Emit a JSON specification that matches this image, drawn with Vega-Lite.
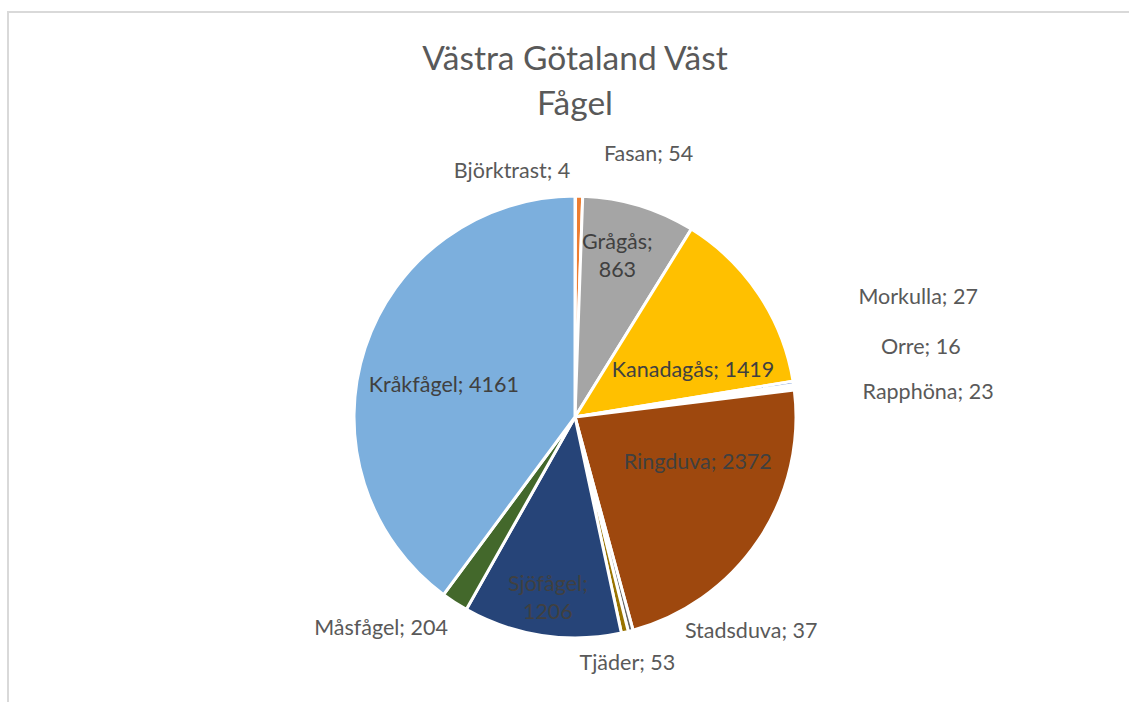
{
  "$schema": "https://vega.github.io/schema/vega-lite/v6.json",
  "autosize": {"type": "none"},
  "padding": {"left": 8, "top": 12, "right": 0, "bottom": 0},
  "width": 1134,
  "height": 810,
  "background": "white",
  "view": {"stroke": "#d9d9d9", "strokeWidth": 2},
  "config": {
    "view": {"stroke": "#d9d9d9", "strokeWidth": 2},
    "text": {"font": "Lato", "fontSize": 21.5}
  },
  "title": {
    "text": ["Västra Götaland Väst", "Fågel"],
    "font": "Lato",
    "fontSize": 33.5,
    "fontWeight": "normal",
    "color": "#595959",
    "lineHeight": 45,
    "anchor": "middle",
    "frame": "group",
    "offset": -110
  },
  "data": {
    "values": [
      {"i": 1, "name": "Björktrast", "value": 4, "label": "Björktrast; 4"},
      {"i": 2, "name": "Fasan", "value": 54, "label": "Fasan; 54"},
      {"i": 3, "name": "Grågås", "value": 863, "label": "Grågås; 863"},
      {"i": 4, "name": "Kanadagås", "value": 1419, "label": "Kanadagås; 1419"},
      {"i": 5, "name": "Morkulla", "value": 27, "label": "Morkulla; 27"},
      {"i": 6, "name": "Orre", "value": 16, "label": "Orre; 16"},
      {"i": 7, "name": "Rapphöna", "value": 23, "label": "Rapphöna; 23"},
      {"i": 8, "name": "Ringduva", "value": 2372, "label": "Ringduva; 2372"},
      {"i": 9, "name": "Stadsduva", "value": 37, "label": "Stadsduva; 37"},
      {"i": 10, "name": "Tjäder", "value": 53, "label": "Tjäder; 53"},
      {"i": 11, "name": "Sjöfågel", "value": 1206, "label": "Sjöfågel; 1206"},
      {"i": 12, "name": "Måsfågel", "value": 204, "label": "Måsfågel; 204"},
      {"i": 13, "name": "Kråkfågel", "value": 4161, "label": "Kråkfågel; 4161"}
    ]
  },
  "encoding": {
    "theta": {"field": "value", "type": "quantitative", "stack": true},
    "order": {"field": "i", "type": "quantitative"}
  },
  "layer": [
    {
      "mark": {"type": "arc", "outerRadius": 221, "stroke": "white", "strokeWidth": 3},
      "encoding": {
        "color": {
          "field": "name",
          "type": "nominal",
          "legend": null,
          "scale": {
            "domain": ["Björktrast", "Fasan", "Grågås", "Kanadagås", "Morkulla", "Orre", "Rapphöna", "Ringduva", "Stadsduva", "Tjäder", "Sjöfågel", "Måsfågel", "Kråkfågel"],
            "range": ["#5B9BD5", "#ED7D31", "#A5A5A5", "#FFC000", "#4472C4", "#70AD47", "#255E91", "#9E480E", "#636363", "#997300", "#264478", "#43682B", "#7CAFDD"]
          }
        }
      }
    },
    {
      "mark": {"type": "text", "radius": 245, "align": "right", "baseline": "middle", "dx": -5, "color": "#595959"},
      "encoding": {"text": {"condition": {"test": "datum.name === 'Björktrast'", "field": "label"}, "value": ""}}
    },
    {
      "mark": {"type": "text", "radius": 262, "align": "left", "baseline": "middle", "dx": 24, "color": "#595959"},
      "encoding": {"text": {"condition": {"test": "datum.name === 'Fasan'", "field": "label"}, "value": ""}}
    },
    {
      "mark": {"type": "text", "radius": 170, "align": "center", "baseline": "middle", "dx": -7, "dy": -11, "lineBreak": " ", "lineHeight": 28, "color": "#404040"},
      "encoding": {"text": {"condition": {"test": "datum.name === 'Grågås'", "field": "label"}, "value": ""}}
    },
    {
      "mark": {"type": "text", "radius": 130, "align": "center", "baseline": "middle", "dx": 10, "dy": 26, "color": "#404040"},
      "encoding": {"text": {"condition": {"test": "datum.name === 'Kanadagås'", "field": "label"}, "value": ""}}
    },
    {
      "mark": {"type": "text", "radius": 300, "align": "left", "baseline": "middle", "dx": -13, "dy": -73, "color": "#595959"},
      "encoding": {"text": {"condition": {"test": "datum.name === 'Morkulla'", "field": "label"}, "value": ""}}
    },
    {
      "mark": {"type": "text", "radius": 300, "align": "left", "baseline": "middle", "dx": 9, "dy": -27, "color": "#595959"},
      "encoding": {"text": {"condition": {"test": "datum.name === 'Orre'", "field": "label"}, "value": ""}}
    },
    {
      "mark": {"type": "text", "radius": 290, "align": "left", "baseline": "middle", "dx": 0, "dy": 13, "color": "#595959"},
      "encoding": {"text": {"condition": {"test": "datum.name === 'Rapphöna'", "field": "label"}, "value": ""}}
    },
    {
      "mark": {"type": "text", "radius": 131, "align": "center", "baseline": "middle", "dx": 14, "dy": -27, "color": "#404040"},
      "encoding": {"text": {"condition": {"test": "datum.name === 'Ringduva'", "field": "label"}, "value": ""}}
    },
    {
      "mark": {"type": "text", "radius": 222, "align": "left", "baseline": "middle", "dx": 54, "dy": 0, "color": "#595959"},
      "encoding": {"text": {"condition": {"test": "datum.name === 'Stadsduva'", "field": "label"}, "value": ""}}
    },
    {
      "mark": {"type": "text", "radius": 250, "align": "center", "baseline": "middle", "dx": -4, "dy": 3, "color": "#595959"},
      "encoding": {"text": {"condition": {"test": "datum.name === 'Tjäder'", "field": "label"}, "value": ""}}
    },
    {
      "mark": {"type": "text", "radius": 180, "align": "center", "baseline": "middle", "dx": 0, "dy": -10, "lineBreak": " ", "lineHeight": 28, "color": "#404040"},
      "encoding": {"text": {"condition": {"test": "datum.name === 'Sjöfågel'", "field": "label"}, "value": ""}}
    },
    {
      "mark": {"type": "text", "radius": 250, "align": "right", "baseline": "middle", "dx": 9, "dy": 2, "color": "#595959"},
      "encoding": {"text": {"condition": {"test": "datum.name === 'Måsfågel'", "field": "label"}, "value": ""}}
    },
    {
      "mark": {"type": "text", "radius": 135, "align": "center", "baseline": "middle", "dx": -3, "dy": 11, "color": "#404040"},
      "encoding": {"text": {"condition": {"test": "datum.name === 'Kråkfågel'", "field": "label"}, "value": ""}}
    }
  ]
}
